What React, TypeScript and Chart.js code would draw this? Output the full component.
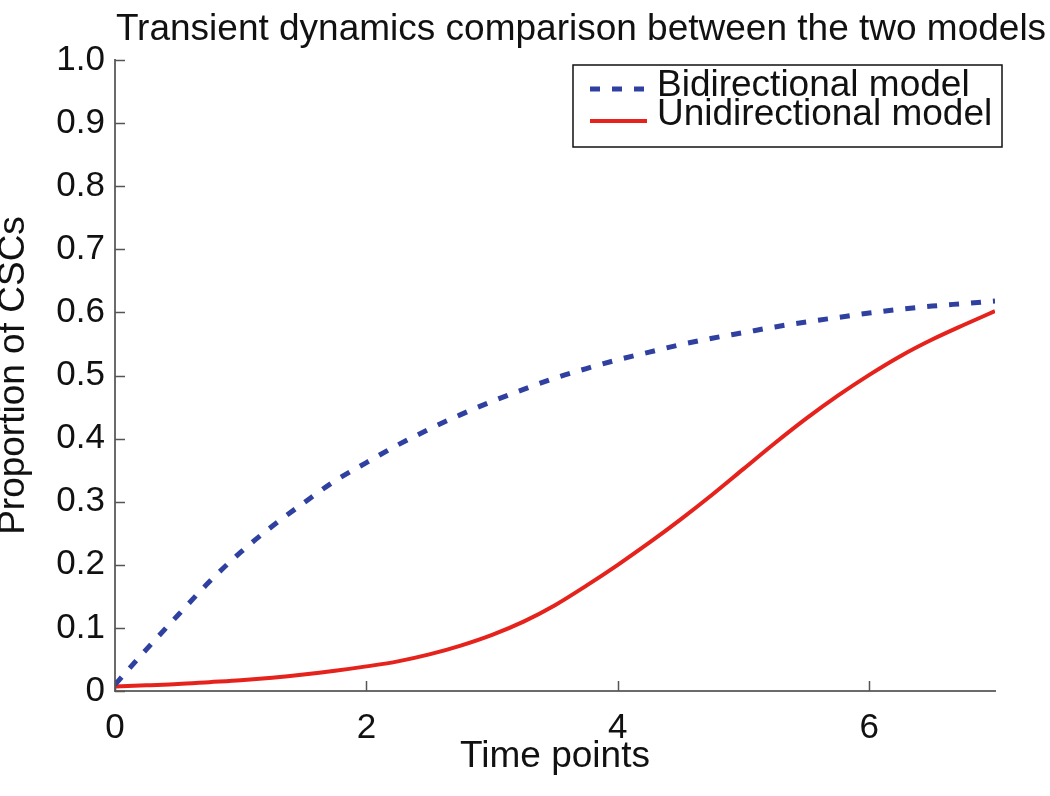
import React, { useEffect, useRef } from "react";
import { Chart, registerables } from "chart.js";

Chart.register(...registerables);

const timePoints = [0, 0.25, 0.5, 0.75, 1, 1.25, 1.5, 1.75, 2, 2.25, 2.5, 2.75, 3, 3.25, 3.5, 3.75, 4, 4.25, 4.5, 4.75, 5, 5.25, 5.5, 5.75, 6, 6.25, 6.5, 6.75, 7];
const bidirectional = [0.01, 0.066, 0.12, 0.173, 0.22, 0.261, 0.298, 0.333, 0.362, 0.39, 0.415, 0.438, 0.459, 0.478, 0.496, 0.511, 0.525, 0.537, 0.549, 0.559, 0.568, 0.577, 0.585, 0.592, 0.599, 0.605, 0.61, 0.614, 0.618];
const unidirectional = [0.007, 0.009, 0.011, 0.014, 0.017, 0.021, 0.026, 0.032, 0.039, 0.047, 0.058, 0.072, 0.089, 0.11, 0.136, 0.167, 0.2, 0.235, 0.272, 0.311, 0.352, 0.393, 0.432, 0.468, 0.501, 0.531, 0.557, 0.58, 0.602];
const xTickValues = [0, 2, 4, 6];
const yTickValues = [0, 0.1, 0.2, 0.3, 0.4, 0.5, 0.6, 0.7, 0.8, 0.9, 1.0];
const yTickLabels = ["0", "0.1", "0.2", "0.3", "0.4", "0.5", "0.6", "0.7", "0.8", "0.9", "1.0"];
const seriesNames = ["Bidirectional model", "Unidirectional model"];
const chartTitle = "Transient dynamics comparison between the two models";
const xTitle = "Time points";
const yTitle = "Proportion of CSCs";

const FONT = "'Liberation Sans', Arial, Helvetica, sans-serif";

const decorPlugin = {
  id: "decor",
  afterDatasetsDraw(chart: any) {
    const { ctx, chartArea, scales } = chart;
    const x = scales.x;
    const y = scales.y;
    ctx.save();
    // inward ticks
    ctx.strokeStyle = "#555";
    ctx.lineWidth = 1.5;
    ctx.beginPath();
    xTickValues.forEach((v) => {
      const px = Math.round(x.getPixelForValue(v)) + 0.5;
      ctx.moveTo(px, chartArea.bottom);
      ctx.lineTo(px, chartArea.bottom - 10);
    });
    yTickValues.forEach((v) => {
      const py = Math.round(y.getPixelForValue(v)) + 0.5;
      ctx.moveTo(chartArea.left, py);
      ctx.lineTo(chartArea.left + 10, py);
    });
    ctx.stroke();

    // title
    ctx.fillStyle = "#111";
    ctx.font = `37px ${FONT}`;
    ctx.textAlign = "center";
    ctx.textBaseline = "alphabetic";
    ctx.fillText(chartTitle, (chartArea.left + chartArea.right) / 2 + 26, 40);

    // legend
    const bx = chartArea.right - 422;
    const by = chartArea.top + 5;
    const bw = 429;
    const bh = 82;
    ctx.fillStyle = "#fff";
    ctx.fillRect(bx, by, bw, bh);
    ctx.strokeStyle = "#111";
    ctx.lineWidth = 1.5;
    ctx.strokeRect(bx, by, bw, bh);
    const rows = [
      { lineY: by + 24, textY: by + 31 },
      { lineY: by + 56, textY: by + 60 },
    ];
    chart.data.datasets.forEach((ds: any, i: number) => {
      const r = rows[i];
      ctx.save();
      ctx.strokeStyle = ds.borderColor;
      ctx.lineWidth = ds.borderWidth;
      ctx.lineCap = "butt";
      ctx.setLineDash(ds.borderDash || []);
      ctx.beginPath();
      ctx.moveTo(bx + 17, r.lineY);
      ctx.lineTo(bx + 74, r.lineY);
      ctx.stroke();
      ctx.restore();
      ctx.fillStyle = "#111";
      ctx.font = `37px ${FONT}`;
      ctx.textAlign = "left";
      ctx.textBaseline = "alphabetic";
      ctx.fillText(ds.label, bx + 84, r.textY);
    });
    ctx.restore();
  },
};

export default function App() {
  const ref = useRef<HTMLCanvasElement | null>(null);
  useEffect(() => {
    if (!ref.current) return;
    const chart = new Chart(ref.current, {
      type: "line",
      data: {
        datasets: [
          {
            label: seriesNames[0],
            data: timePoints.map((t, i) => ({ x: t, y: bidirectional[i] })),
            borderColor: "#2f40a0",
            borderWidth: 5,
            borderDash: [10, 12],
            borderCapStyle: "butt",
            pointRadius: 0,
            cubicInterpolationMode: "monotone",
            fill: false,
          },
          {
            label: seriesNames[1],
            data: timePoints.map((t, i) => ({ x: t, y: unidirectional[i] })),
            borderColor: "#e5231c",
            borderWidth: 4,
            pointRadius: 0,
            cubicInterpolationMode: "monotone",
            fill: false,
          },
        ],
      },
      options: {
        responsive: false,
        animation: false,
        events: [],
        layout: { padding: { top: 60, right: 55, bottom: 0, left: 0 } },
        plugins: { legend: { display: false }, title: { display: false }, tooltip: { enabled: false } },
        scales: {
          x: {
            type: "linear",
            min: 0,
            max: 7,
            afterBuildTicks: (s: any) => {
              s.ticks = xTickValues.map((v) => ({ value: v }));
            },
            afterFit: (s: any) => {
              s.height = 105;
            },
            grid: { display: false },
            border: { display: true, color: "#6b6b6b", width: 2 },
            ticks: {
              color: "#111",
              padding: 8,
              maxRotation: 0,
              font: { family: FONT, size: 35 },
              callback: (v: any) => String(v),
            },
            title: {
              display: true,
              text: xTitle,
              color: "#111",
              padding: { top: 0, bottom: 17 },
              font: { family: FONT, size: 37 },
            },
          },
          y: {
            type: "linear",
            min: 0,
            max: 1,
            afterBuildTicks: (s: any) => {
              s.ticks = yTickValues.map((v) => ({ value: v }));
            },
            afterFit: (s: any) => {
              s.width = 115;
            },
            grid: { display: false },
            border: { display: true, color: "#6b6b6b", width: 2 },
            ticks: {
              color: "#111",
              padding: 2,
              font: { family: FONT, size: 35 },
              callback: (_v: any, i: number) => yTickLabels[i],
            },
            title: {
              display: true,
              text: yTitle,
              color: "#111",
              padding: 0,
              font: { family: FONT, size: 37, lineHeight: 0.76 },
            },
          },
        },
      },
      plugins: [decorPlugin],
    } as any);
    return () => chart.destroy();
  }, []);
  return (
    <div style={{ position: "absolute", left: 0, top: 0, width: 1050, height: 796, background: "#fff" }}>
      <canvas ref={ref} width={1050} height={796} style={{ width: 1050, height: 796, display: "block" }} />
    </div>
  );
}
